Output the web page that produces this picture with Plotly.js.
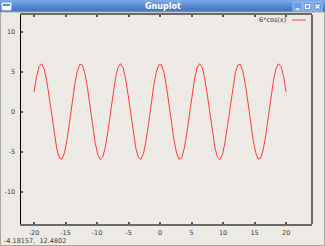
<!DOCTYPE html>
<html>
<head>
<meta charset="utf-8">
<script src="https://cdn.plot.ly/plotly-3.0.1.min.js"></script>
<style>html,body{margin:0;padding:0;background:#edeae5;overflow:hidden;}#chart{width:325px;height:246px;}</style>
</head>
<body>
<div id="chart"></div>
<script>
// Samples of 6*cos(x) as plotted by gnuplot (100 samples on [-20, 20])
const xValues = [
 -20.0000,-19.5960,-19.1919,-18.7879,-18.3838,-17.9798,-17.5758,-17.1717,-16.7677,-16.3636,
 -15.9596,-15.5556,-15.1515,-14.7475,-14.3434,-13.9394,-13.5354,-13.1313,-12.7273,-12.3232,
 -11.9192,-11.5152,-11.1111,-10.7071,-10.3030,-9.8990,-9.4949,-9.0909,-8.6869,-8.2828,
 -7.8788,-7.4747,-7.0707,-6.6667,-6.2626,-5.8586,-5.4545,-5.0505,-4.6465,-4.2424,
 -3.8384,-3.4343,-3.0303,-2.6263,-2.2222,-1.8182,-1.4141,-1.0101,-0.6061,-0.2020,
 0.2020,0.6061,1.0101,1.4141,1.8182,2.2222,2.6263,3.0303,3.4343,3.8384,
 4.2424,4.6465,5.0505,5.4545,5.8586,6.2626,6.6667,7.0707,7.4747,7.8788,
 8.2828,8.6869,9.0909,9.4949,9.8990,10.3030,10.7071,11.1111,11.5152,11.9192,
 12.3232,12.7273,13.1313,13.5354,13.9394,14.3434,14.7475,15.1515,15.5556,15.9596,
 16.3636,16.7677,17.1717,17.5758,17.9798,18.3838,18.7879,19.1919,19.5960,20.0000
];
const yValues = [
 2.4485,4.4048,5.6518,5.9886,5.3610,3.8701,1.7565,-0.6410,-2.9347,-4.7558,
 -5.8110,-5.9305,-5.0948,-3.4387,-1.2288,1.1789,3.3968,5.0677,5.9225,5.8235,
 4.7868,2.9791,0.6917,-1.7071,-3.8310,-5.3379,-5.9852,-5.6687,-4.4393,-2.4950,
 -0.1488,2.2212,4.2336,5.5642,5.9987,5.4672,4.0553,1.9903,-0.3953,-2.7171,
 -4.6014,-5.7447,-5.9629,-5.2208,-3.6426,-1.4692,0.9361,3.1906,4.9314,5.8780,
 5.8780,4.9314,3.1906,0.9361,-1.4692,-3.6426,-5.2208,-5.9629,-5.7447,-4.6014,
 -2.7171,-0.3953,1.9903,4.0553,5.4672,5.9987,5.5642,4.2336,2.2212,-0.1488,
 -2.4950,-4.4393,-5.6687,-5.9852,-5.3379,-3.8310,-1.7071,0.6917,2.9791,4.7868,
 5.8235,5.9225,5.0677,3.3968,1.1789,-1.2288,-3.4387,-5.0948,-5.9305,-5.8110,
 -4.7558,-2.9347,-0.6410,1.7565,3.8701,5.3610,5.9886,5.6518,4.4048,2.4485
];
const seriesName = "6*cos(x)";
const xTicks = [-20,-15,-10,-5,0,5,10,15,20];
const yTicks = [-10,-5,0,5,10];
const windowTitle = "Gnuplot";
const statusText = "-4.18157,  12.4802";

const W = 325, H = 246, L = 21, R = 312, T = 15, B = 224;
const px = v => (v - L) / (R - L);
const py = v => (B - v) / (B - T);

const font = {family: "DejaVu Sans", size: 6.5, color: "#3a3a3a"};

const shapes = [];
// title bar gradient bands
const bands = ["#7aa7e2","#6a9bdc","#5d90d6","#5386d0","#4a7dc9","#4577c2"];
for (let i = 0; i < bands.length; i++) {
  shapes.push({type:"rect", xref:"paper", yref:"paper", x0:px(0), x1:px(W), y0:py(i*2), y1:py(i*2+2), fillcolor:bands[i], line:{width:0}, layer:"below"});
}
// window icon
shapes.push({type:"rect", xref:"paper", yref:"paper", x0:px(2), x1:px(11), y0:py(3), y1:py(10), fillcolor:"#ffffff", line:{color:"#dfe8f5", width:1}});
shapes.push({type:"rect", xref:"paper", yref:"paper", x0:px(3), x1:px(10), y0:py(4), y1:py(6), fillcolor:"#5b8ed6", line:{width:0}});
// buttons
[[293,302],[303,312],[313,322]].forEach(b => {
  shapes.push({type:"rect", xref:"paper", yref:"paper", x0:px(b[0]), x1:px(b[1]), y0:py(2), y1:py(11), fillcolor:"#6b9ce0", line:{color:"#9fc0ec", width:1}});
});
shapes.push({type:"line", xref:"paper", yref:"paper", x0:px(295.5), x1:px(299.5), y0:py(9), y1:py(9), line:{color:"#ffffff", width:1.5}});
shapes.push({type:"rect", xref:"paper", yref:"paper", x0:px(305.5), x1:px(309.5), y0:py(4.5), y1:py(8.5), line:{color:"#ffffff", width:1.2}});
shapes.push({type:"line", xref:"paper", yref:"paper", x0:px(315.5), x1:px(319.5), y0:py(4.5), y1:py(8.5), line:{color:"#ffffff", width:1.3}});
shapes.push({type:"line", xref:"paper", yref:"paper", x0:px(315.5), x1:px(319.5), y0:py(8.5), y1:py(4.5), line:{color:"#ffffff", width:1.3}});
// window frame
shapes.push({type:"rect", xref:"paper", yref:"paper", x0:px(0.5), x1:px(324.5), y0:py(12), y1:py(245.5), line:{color:"#a9a7a2", width:1}, layer:"below"});
// right border of plot (gray)
shapes.push({type:"line", xref:"paper", yref:"paper", x0:1, x1:1, y0:0, y1:1, line:{color:"#6a6a6a", width:2}});
// legend sample line
shapes.push({type:"line", xref:"paper", yref:"paper", x0:px(292), x1:px(306), y0:py(20), y1:py(20), line:{color:"#ff4040", width:1}});

const annotations = [
  {text: windowTitle, xref:"paper", yref:"paper", x:px(162.5), y:py(6.5), xanchor:"center", yanchor:"middle", showarrow:false, font:{family:"DejaVu Sans", size:8, color:"#ffffff", weight:"bold"}},
  {text: seriesName, xref:"paper", yref:"paper", x:px(288), y:py(20), xanchor:"right", yanchor:"middle", showarrow:false, font:font},
  {text: statusText, xref:"paper", yref:"paper", x:px(2), y:py(240.5), xanchor:"left", yanchor:"middle", showarrow:false, font:font}
];

const data = [{
  x: xValues, y: yValues, type: "scatter", mode: "lines", name: seriesName,
  line: {color: "#ff3a3a", width: 1}, hoverinfo: "skip", showlegend: false
}];

const layout = {
  width: W, height: H,
  margin: {l: L, r: W - R, t: T, b: H - B, pad: 0},
  paper_bgcolor: "#edeae5", plot_bgcolor: "#edeae5",
  showlegend: false,
  font: font,
  xaxis: {
    range: [-22.06, 24.1], tickmode: "array", tickvals: xTicks, ticktext: xTicks.map(String),
    ticks: "inside", ticklen: 2, tickwidth: 2, tickcolor: "#555555",
    showline: true, linecolor: "#6a6a6a", linewidth: 2, mirror: "ticks",
    showgrid: false, zeroline: false, tickfont: font, ticklabelstandoff: 1, fixedrange: true
  },
  yaxis: {
    range: [-14.04, 12.09], tickmode: "array", tickvals: yTicks, ticktext: yTicks.map(String),
    ticks: "inside", ticklen: 2, tickwidth: 2, tickcolor: "#555555",
    showline: true, linecolor: "#000000", linewidth: 1.5, mirror: false,
    showgrid: false, zeroline: false, tickfont: font, ticklabelstandoff: 3, fixedrange: true
  },
  yaxis2: {
    overlaying: "y", side: "right", anchor: "x", range: [-14.04, 12.09],
    tickmode: "array", tickvals: yTicks, showticklabels: false,
    ticks: "inside", ticklen: 2, tickwidth: 2, tickcolor: "#555555",
    showline: false, showgrid: false, zeroline: false, fixedrange: true
  },
  shapes: shapes,
  annotations: annotations
};

Plotly.newPlot("chart", data, layout, {displayModeBar: false, staticPlot: true});
</script>
</body>
</html>
